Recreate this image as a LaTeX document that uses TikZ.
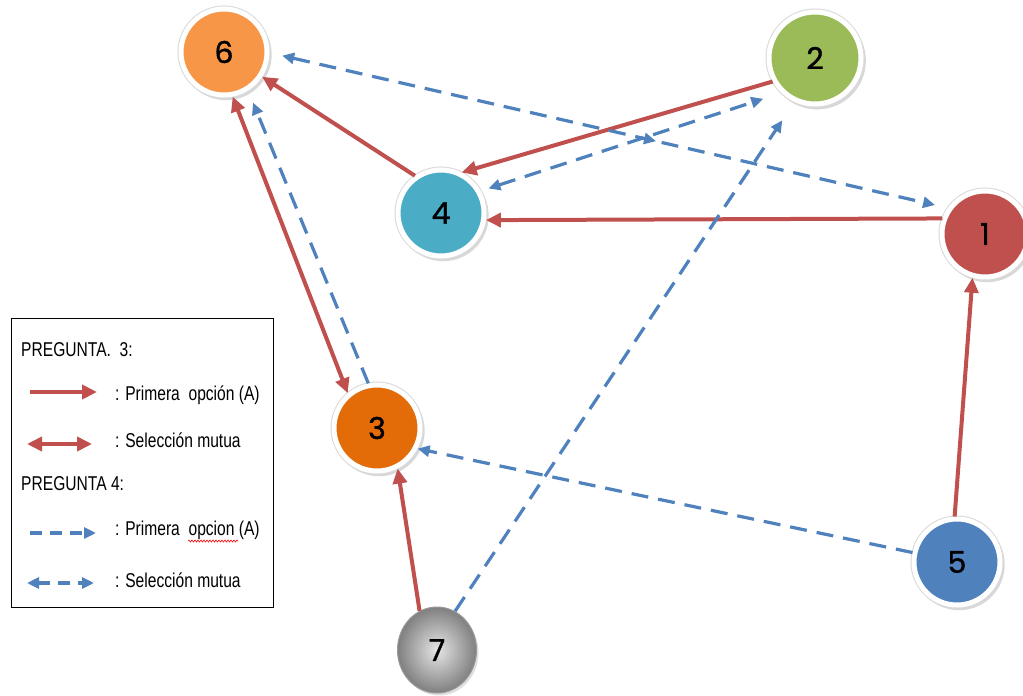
\documentclass[tikz,border=0pt]{standalone}
\usepackage{fontspec}
\newfontfamily\numfont[FakeBold=1.2]{Poppins}
\newfontfamily\legfont[FakeStretch=0.78]{Liberation Sans}
\usetikzlibrary{arrows.meta,shapes.geometric,shadows,decorations.markings,decorations.pathmorphing}
\definecolor{cred}{HTML}{C0504D}
\definecolor{cblue}{HTML}{4F81BD}
\definecolor{corange}{HTML}{F79646}
\definecolor{cgreen}{HTML}{9BBB59}
\definecolor{cteal}{HTML}{4BACC6}
\definecolor{cdorange}{HTML}{E36C09}
\begin{document}
\begin{tikzpicture}[x=1pt,y=-1pt,
  ball/.style={circle, minimum size=86pt, inner sep=0pt, fill=#1, draw=white, line width=5pt,
     drop shadow={shadow xshift=2pt, shadow yshift=-2.5pt, shadow scale=1.06, opacity=0.3},
     preaction={draw=black!15, line width=7pt},
     font=\numfont\fontsize{30}{30}\selectfont, text=black},
  greyball/.style={ellipse, minimum width=79pt, minimum height=86pt, inner sep=0pt,
     shading=radial, inner color=black!10, outer color=black!50, draw=black!40, line width=1pt,
     drop shadow={shadow xshift=2pt, shadow yshift=-2.5pt, opacity=0.25},
     font=\numfont\fontsize{30}{30}\selectfont, text=black},
  redtip/.tip={Triangle[length=15pt,width=14pt]},
  bluetip/.tip={Triangle[length=12pt,width=11pt]},
  redarr/.style={draw=cred, line width=4pt, -redtip},
  redmutual/.style={draw=cred, line width=4pt, redtip-redtip},
  bluearr/.style={draw=cblue, line width=3.2pt, dash pattern=on 17pt off 10pt, -bluetip},
  bluemutual/.style={draw=cblue, line width=3.2pt, dash pattern=on 17pt off 10pt, bluetip-bluetip},
  legtxt/.style={font=\legfont\fontsize{20}{20}\selectfont, inner sep=0pt, anchor=west, text=black},
]
\path[fill=white] (0,0) rectangle (1023,696);
\useasboundingbox (0,0) rectangle (1023,696);

% nodes
\node[ball=corange] (n6) at (224,52) {6};
\node[ball=cgreen, minimum size=92pt] (n2) at (815,58) {2};
\node[ball=cred] (n1) at (985,234) {1};
\node[ball=cteal] (n4) at (441,213) {4};
\node[ball=cdorange] (n3) at (377,428) {3};
\node[ball=cblue] (n5) at (957,562) {5};
\node[greyball] (n7) at (437,650) {7};

% pregunta 3 (red)
\draw[redarr] (n2.209) -- (n4.63);
\draw[redarr] (n4.125) -- (n6.-33);
\draw[redarr] (n1.160) -- (n4.-9);
\draw[redarr] (n5.93) -- (n1.-106);
\draw[redarr] (n7.114) -- (n3.-63);
\draw[redmutual] (n6.-79) -- (n3.130);

% pregunta 4 (blue dashed)
\draw[bluemutual, shorten <=13pt, shorten >=13pt,
  postaction={decorate, decoration={markings, mark=at position 0.57 with {\arrow{bluetip}}}}]
  (n6.-1) -- (n1.145);
\draw[bluemutual, shorten <=8pt, shorten >=19pt] (n4.29) -- (n2.226);
\draw[bluearr, shorten >=22pt] (n7.65) -- (n2.245);
\draw[bluearr] (n5.168) -- (n3.-27);
\draw[bluearr, shorten >=13pt] (n3.101) -- (n6.-58);

% legend
\node[draw=black, line width=1pt, minimum width=262pt, minimum height=289pt, inner sep=0pt,
  anchor=north west] (leg) at (11,318) {};
\node[legtxt] (q3) at (21,350) {PREGUNTA.\ \ 3:};
\coordinate (l1a) at (30,392); \coordinate (l1b) at (97,392);
\draw[redarr, line width=4.5pt] (l1a) -- (l1b);
\node[legtxt] (t1) at (115,395) {: Primera\ \ opción (A)};
\coordinate (l2a) at (27,444); \coordinate (l2b) at (92,444);
\draw[redmutual, line width=4.5pt] (l2a) -- (l2b);
\node[legtxt] (t2) at (115,440) {: Selección mutua};
\node[legtxt] (q4) at (21,484) {PREGUNTA\ 4:};
\coordinate (l3a) at (30,533); \coordinate (l3b) at (96,533);
\draw[bluearr, dash pattern=on 12pt off 8pt] (l3a) -- (l3b);
\node[legtxt] (t3) at (115,530) {: Primera\ \ opcion (A)};
\coordinate (w1) at (188,541); \coordinate (w2) at (238,541);
\draw[red, line width=0.6pt, decorate, decoration={snake, amplitude=1pt, segment length=3pt}] (w1) -- (w2);
\coordinate (l4a) at (27,583); \coordinate (l4b) at (94,583);
\draw[bluemutual, dash pattern=on 12pt off 8pt] (l4a) -- (l4b);
\node[legtxt] (t4) at (115,580) {: Selección mutua};
\end{tikzpicture}
\end{document}
